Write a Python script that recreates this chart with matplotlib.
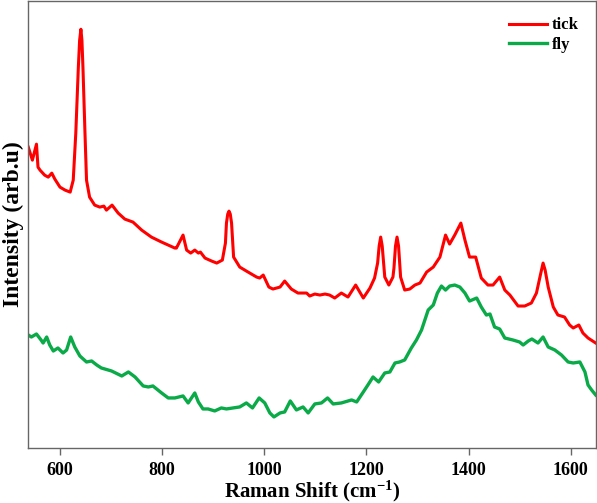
import matplotlib

matplotlib.use("Agg")

import matplotlib.pyplot as plt

# Raman shift (cm-1) and intensity (arb. u)
tick_shift = [538, 546, 554, 557, 561, 570, 577, 584, 590, 600, 610, 620, 626,
              631, 636, 638.5, 641, 643, 645, 649, 652, 658, 668, 678, 686,
              691, 702, 714, 727, 743, 760, 779, 799, 825, 828, 841, 848, 856,
              864, 871, 875, 884, 897, 907, 918, 924, 926, 928.5, 931, 933.5,
              936, 940, 952, 965, 985, 991, 998, 1009, 1017, 1031, 1040, 1053,
              1066, 1083, 1089, 1099, 1109, 1119, 1128, 1138, 1151, 1164, 1179,
              1194, 1207, 1216, 1222, 1225, 1228, 1231, 1236, 1244, 1252, 1254,
              1257, 1260, 1263, 1267, 1275, 1285, 1295, 1305, 1318, 1331, 1344,
              1355, 1363, 1373, 1385, 1393, 1402, 1414, 1425, 1438, 1448, 1461,
              1471, 1481, 1497, 1510, 1523, 1533, 1542, 1546, 1550, 1556, 1566,
              1575, 1588, 1598, 1605, 1616, 1624, 1634, 1649]
tick_int = [301, 288, 304, 281, 278, 273, 271, 275, 269, 261, 258, 256, 268,
            315, 381, 408, 419, 408, 381, 315, 268, 251, 243, 241, 242,
            238, 243, 235, 229, 226, 218, 211, 206, 200, 200, 213, 198, 195,
            198, 195, 196, 190, 187, 185, 188, 205, 225, 234, 237, 234,
            225, 191, 181, 177, 171, 170, 173, 161, 159, 161, 167, 159,
            155, 155, 152, 154, 153, 154, 153, 150, 155, 151, 163,
            150, 160, 170, 185, 202, 211, 202, 171, 163, 171, 180,
            202, 211, 202, 171, 158, 159, 163, 165, 176, 181, 191,
            213, 204, 213, 225, 208, 191, 191, 170, 163, 163, 171,
            158, 153, 142, 142, 145, 155, 176, 185, 178, 161, 141,
            133, 131, 123, 120, 123, 115, 110, 105]

fly_shift = [538, 544, 554, 563, 567, 574, 580, 587, 596, 606, 613, 621, 629,
             639, 652, 662, 672, 681, 701, 721, 734, 747, 763, 773, 782, 799,
             812, 825, 841, 851, 864, 871, 880, 890, 903, 916, 926, 939, 952,
             965, 977, 990, 1001, 1011, 1019, 1031, 1040, 1051, 1063, 1076,
             1086, 1099, 1112, 1124, 1135, 1151, 1171, 1181, 1194, 1203, 1213,
             1224, 1236, 1246, 1256, 1265, 1275, 1288, 1298, 1308, 1321, 1331,
             1339, 1347, 1355, 1363, 1373, 1383, 1393, 1402, 1416, 1425, 1435,
             1442, 1451, 1461, 1471, 1487, 1500, 1507, 1517, 1524, 1536, 1546,
             1556, 1569, 1582, 1595, 1605, 1618, 1628, 1634, 1641, 1649]
fly_int = [113, 111, 114, 108, 105, 111, 103, 97, 100, 95, 98, 111, 101,
           92, 86, 87, 83, 80, 77, 72, 76, 71, 62, 61, 62, 55,
           50, 50, 52, 45, 55, 46, 39, 39, 37, 40, 39, 40, 41,
           45, 40, 50, 45, 35, 31, 35, 36, 47, 38, 41,
           35, 44, 45, 50, 44, 45, 48, 46, 56, 63, 71,
           66, 75, 76, 85, 86, 88, 100, 108, 118, 138, 143,
           155, 162, 158, 162, 163, 161, 155, 147, 150, 141, 133,
           134, 121, 119, 110, 108, 106, 103, 107, 109, 105, 111,
           101, 98, 93, 86, 85, 86, 76, 63, 58, 53]

xticks = [600, 800, 1000, 1200, 1400, 1600]

plt.rcParams["font.family"] = ["Liberation Serif", "DejaVu Serif"]
plt.rcParams["font.weight"] = "bold"
plt.rcParams["mathtext.fontset"] = "custom"
plt.rcParams["mathtext.bf"] = "Liberation Serif:bold"
plt.rcParams["mathtext.rm"] = "Liberation Serif:bold"
plt.rcParams["mathtext.default"] = "bf"

fig = plt.figure(figsize=(5.97, 5.03), dpi=100)
ax = fig.add_axes([0.0474, 0.1095, 0.9504, 0.889])

ax.plot(tick_shift, tick_int, color="#ff0000", lw=2.2, label="tick",
        solid_joinstyle="round")
ax.plot(fly_shift, fly_int, color="#0aaa48", lw=2.4, label="fly",
        solid_joinstyle="round")

ax.set_xlim(538, 1649)
ax.set_ylim(0, 447.5)
ax.set_xticks(xticks)
ax.set_yticks([])
ax.tick_params(axis="x", direction="out", length=5, width=1, color="#666666",
               labelsize=13, pad=5)
for sp in ax.spines.values():
    sp.set_color("#666666")
    sp.set_linewidth(1.0)

ax.set_xlabel("Raman Shift (cm$^{-1}$)", fontsize=15, fontweight="bold",
              labelpad=0)
ax.set_ylabel("Intensity (arb.u)", fontsize=17, fontweight="bold", labelpad=3)

ax.legend(loc="upper right", frameon=False, fontsize=12, handlelength=2.3,
          labelspacing=0.2, handletextpad=0.3, borderaxespad=0.6)

fig.savefig("out.png", dpi=100)
